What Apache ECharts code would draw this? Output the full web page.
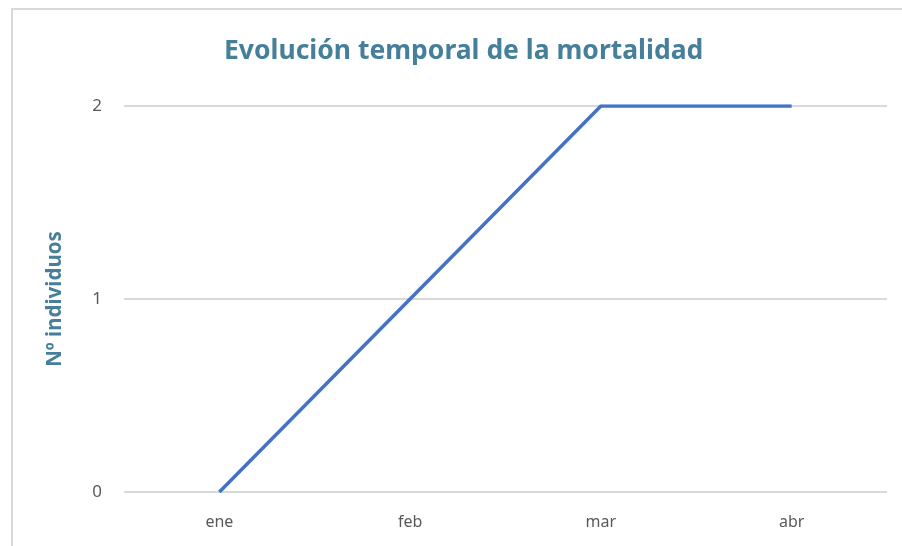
<!DOCTYPE html>
<html>
<head>
<meta charset="utf-8">
<script src="https://cdn.jsdelivr.net/npm/echarts@6/dist/echarts.min.js"></script>
<style>
  html, body { margin: 0; padding: 0; background: #fff; }
  #chart { width: 902px; height: 546px; }
</style>
</head>
<body>
<div id="chart"></div>
<script>
var months = ['ene', 'feb', 'mar', 'abr'];
var deaths = [0, 1, 2, 2];
var yTicks = [0, 1, 2];

var chartDom = document.getElementById('chart');
var chart = echarts.init(chartDom);

var option = {
    backgroundColor: '#fff',
    graphic: [{
        type: 'rect',
        shape: { x: 12, y: 9, width: 1000, height: 1000 },
        style: { fill: 'none', stroke: '#d9d9d9', lineWidth: 2 },
        silent: true
    }],
    title: {
        text: 'Evolución temporal de la mortalidad',
        left: 224,
        top: 38,
        padding: 0,
        textStyle: {
            fontFamily: 'Noto Sans',
            fontSize: 26.5,
            fontWeight: 'bold',
            color: '#457f99'
        }
    },
    grid: {
        left: 124,
        right: 15,
        top: 106,
        bottom: 54
    },
    xAxis: {
        type: 'category',
        data: months,
        boundaryGap: true,
        axisLine: { show: false },
        axisTick: { show: false },
        axisLabel: {
            margin: 22,
            fontFamily: 'Noto Sans',
            fontSize: 16,
            color: '#595959'
        }
    },
    yAxis: {
        type: 'value',
        min: yTicks[0],
        max: yTicks[yTicks.length - 1],
        interval: 1,
        name: 'Nº individuos',
        nameLocation: 'middle',
        nameGap: 58,
        nameTextStyle: {
            fontFamily: 'Noto Sans',
            fontSize: 20.5,
            fontWeight: 'bold',
            color: '#457f99'
        },
        axisLine: { show: false },
        axisTick: { show: false },
        axisLabel: {
            margin: 22,
            fontFamily: 'Noto Sans',
            fontSize: 17,
            color: '#595959'
        },
        splitLine: {
            lineStyle: { color: '#d9d9d9', width: 2 }
        }
    },
    series: [{
        name: 'Mortalidad',
        type: 'line',
        data: deaths,
        symbol: 'none',
        lineStyle: { color: '#4472c4', width: 3.5 },
        itemStyle: { color: '#4472c4' }
    }]
};

option && chart.setOption(option);
</script>
</body>
</html>
